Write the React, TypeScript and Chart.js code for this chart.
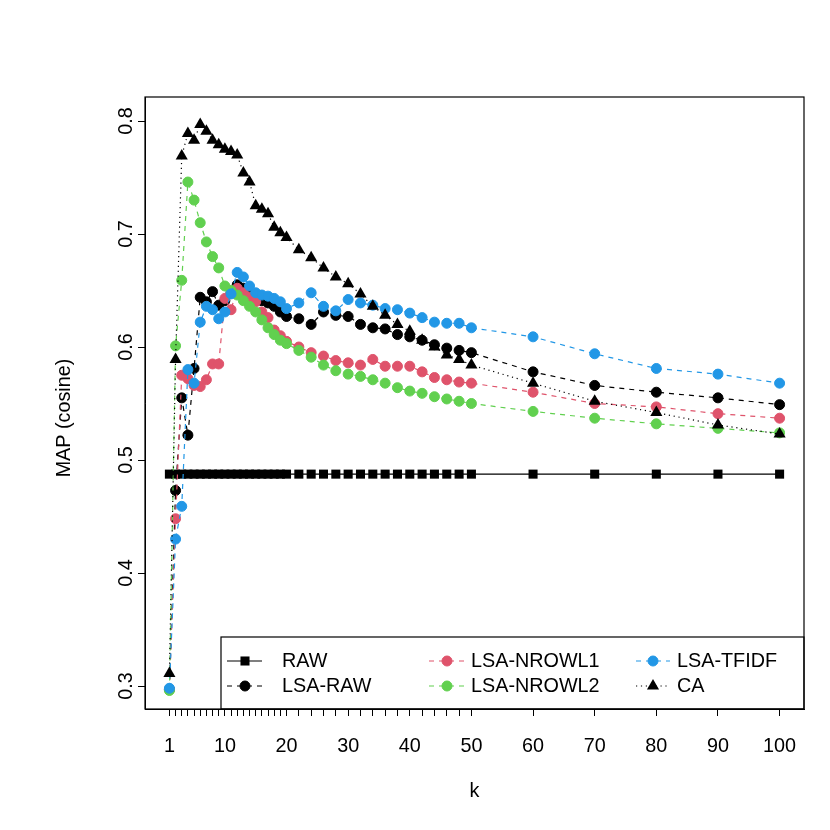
import React, { useEffect, useRef } from "react";
import { Chart, registerables } from "chart.js";

Chart.register(...registerables);

// ---------------- data ----------------
const kValues = [1, 2, 3, 4, 5, 6, 7, 8, 9, 10, 11, 12, 13, 14, 15, 16, 17, 18, 19, 20,
  22, 24, 26, 28, 30, 32, 34, 36, 38, 40, 42, 44, 46, 48, 50, 60, 70, 80, 90, 100];

const rawValues = [0.4875, 0.4875, 0.4875, 0.4875, 0.4875, 0.4875, 0.4875, 0.4875, 0.4875, 0.4875,
  0.4875, 0.4875, 0.4875, 0.4875, 0.4875, 0.4875, 0.4875, 0.4875, 0.4875, 0.4875,
  0.4875, 0.4875, 0.4875, 0.4875, 0.4875, 0.4875, 0.4875, 0.4875, 0.4875, 0.4875,
  0.4875, 0.4875, 0.4875, 0.4875, 0.4875, 0.4875, 0.4875, 0.4875, 0.4875, 0.4875];

const lsaRawValues = [0.297, 0.473, 0.555, 0.522, 0.581, 0.644, 0.640, 0.649, 0.637, 0.641,
  0.648, 0.655, 0.652, 0.648, 0.645, 0.641, 0.639, 0.636, 0.631, 0.627,
  0.625, 0.620, 0.631, 0.628, 0.627, 0.620, 0.617, 0.616, 0.611, 0.609,
  0.606, 0.602, 0.599, 0.597, 0.595, 0.578, 0.566, 0.560, 0.555, 0.549];

const nrowl1Values = [0.297, 0.448, 0.575, 0.572, 0.566, 0.565, 0.571, 0.585, 0.585, 0.643,
  0.633, 0.652, 0.648, 0.644, 0.640, 0.631, 0.626, 0.615, 0.610, 0.605,
  0.600, 0.595, 0.592, 0.588, 0.586, 0.584, 0.589, 0.583, 0.583, 0.583,
  0.578, 0.573, 0.571, 0.569, 0.568, 0.560, 0.550, 0.547, 0.541, 0.537];

const nrowl2Values = [0.296, 0.601, 0.659, 0.746, 0.730, 0.710, 0.693, 0.680, 0.670, 0.654,
  0.650, 0.646, 0.641, 0.636, 0.631, 0.624, 0.617, 0.611, 0.606, 0.603,
  0.597, 0.591, 0.584, 0.579, 0.576, 0.574, 0.571, 0.568, 0.564, 0.561,
  0.559, 0.556, 0.554, 0.552, 0.550, 0.543, 0.537, 0.532, 0.528, 0.524];

const tfidfValues = [0.298, 0.430, 0.459, 0.580, 0.568, 0.622, 0.636, 0.633, 0.625, 0.631,
  0.647, 0.666, 0.662, 0.654, 0.648, 0.646, 0.645, 0.643, 0.640, 0.634,
  0.639, 0.648, 0.636, 0.632, 0.642, 0.639, 0.637, 0.634, 0.633, 0.630,
  0.626, 0.622, 0.621, 0.621, 0.617, 0.609, 0.594, 0.581, 0.576, 0.568];

const caValues = [0.311, 0.589, 0.769, 0.789, 0.783, 0.797, 0.791, 0.783, 0.779, 0.775,
  0.773, 0.770, 0.754, 0.746, 0.725, 0.722, 0.718, 0.706, 0.701, 0.697,
  0.686, 0.679, 0.670, 0.662, 0.656, 0.647, 0.636, 0.628, 0.620, 0.614,
  0.606, 0.600, 0.593, 0.589, 0.584, 0.568, 0.552, 0.542, 0.531, 0.523];

const xLabelValues = [1, 10, 20, 30, 40, 50, 60, 70, 80, 90, 100];
const yTickValues = [0.3, 0.4, 0.5, 0.6, 0.7, 0.8];

const seriesNames = ["RAW", "LSA-RAW", "LSA-NROWL1", "LSA-NROWL2", "LSA-TFIDF", "CA"];

// ---------------- styles ----------------
const FONT = '"Liberation Sans", Arial, Helvetica, sans-serif';
const FS = 19.8;
const RED = "#DF536B";
const GREEN = "#61D04F";
const BLUE = "#2297E6";
const BLACK = "#000000";
const LW = 1.2;
const DASH = [5, 5];
const DOT = [1.2, 3.7];

type Sty = { color: string; dash: number[]; point: string; r: number; bw: number };
const styles: Sty[] = [
  { color: BLACK, dash: [], point: "rect", r: 6.4, bw: 0 },
  { color: BLACK, dash: DASH, point: "circle", r: 5, bw: 1 },
  { color: RED, dash: DASH, point: "circle", r: 5, bw: 1 },
  { color: GREEN, dash: DASH, point: "circle", r: 5, bw: 1 },
  { color: BLUE, dash: DASH, point: "circle", r: 5, bw: 1 },
  { color: BLACK, dash: DOT, point: "triangle", r: 7, bw: 0 },
];

// legend column layout: [segment start, marker x, segment end, text x]
const legendCols = [
  [227, 245, 262, 282],
  [429, 447, 465, 471],
  [636, 653, 670, 677],
];

function drawMarker(ctx: CanvasRenderingContext2D, s: Sty, x: number, y: number) {
  ctx.save();
  ctx.setLineDash([]);
  ctx.fillStyle = s.color;
  ctx.strokeStyle = s.color;
  ctx.lineWidth = s.bw;
  ctx.beginPath();
  if (s.point === "circle") {
    ctx.arc(x, y, s.r, 0, Math.PI * 2);
  } else if (s.point === "rect") {
    const h = s.r * Math.SQRT1_2;
    ctx.rect(x - h, y - h, 2 * h, 2 * h);
  } else {
    const r = s.r;
    ctx.moveTo(x, y - r);
    ctx.lineTo(x + r * Math.sin((2 * Math.PI) / 3), y - r * Math.cos((2 * Math.PI) / 3));
    ctx.lineTo(x + r * Math.sin((4 * Math.PI) / 3), y - r * Math.cos((4 * Math.PI) / 3));
    ctx.closePath();
  }
  ctx.fill();
  if (s.bw > 0) ctx.stroke();
  ctx.restore();
}

const rPlotPlugin = {
  id: "rPlot",
  afterDraw(chart: any) {
    const ctx: CanvasRenderingContext2D = chart.ctx;
    const { left, right, top, bottom } = chart.chartArea;
    const xs = chart.scales.x;
    const ys = chart.scales.y;
    ctx.save();

    // legend box (bottom right)
    const lgL = 221, lgT = 637, lgR = right, lgB = bottom;
    ctx.fillStyle = "#fff";
    ctx.fillRect(lgL, lgT, lgR - lgL, lgB - lgT);
    ctx.strokeStyle = "#000";
    ctx.lineWidth = 1.2;
    ctx.strokeRect(lgL, lgT, lgR - lgL, lgB - lgT);

    const rowY = [661, 686];
    ctx.font = `${FS}px ${FONT}`;
    ctx.textAlign = "left";
    ctx.textBaseline = "middle";
    seriesNames.forEach((name, i) => {
      const col = Math.floor(i / 2);
      const row = i % 2;
      const s = styles[i];
      const [x0, xm, x1, xt] = legendCols[col];
      const y = rowY[row];
      ctx.save();
      ctx.strokeStyle = s.color;
      ctx.lineWidth = LW;
      ctx.setLineDash(s.dash);
      ctx.beginPath();
      ctx.moveTo(x0, y);
      ctx.lineTo(x1, y);
      ctx.stroke();
      ctx.restore();
      drawMarker(ctx, s, xm, y);
      ctx.fillStyle = "#000";
      ctx.fillText(name, xt, y + 1);
    });

    // plot box
    ctx.strokeStyle = "#000";
    ctx.lineWidth = 1.2;
    ctx.setLineDash([]);
    ctx.strokeRect(left, top, right - left, bottom - top);

    // x tick labels
    ctx.fillStyle = "#000";
    ctx.font = `${FS}px ${FONT}`;
    ctx.textAlign = "center";
    ctx.textBaseline = "alphabetic";
    xLabelValues.forEach((v) => {
      ctx.fillText(String(v), xs.getPixelForValue(v), 752);
    });

    // y tick labels (rotated like R)
    yTickValues.forEach((v) => {
      ctx.save();
      ctx.translate(132, ys.getPixelForValue(v));
      ctx.rotate(-Math.PI / 2);
      ctx.fillText(v.toFixed(1), 0, 0);
      ctx.restore();
    });

    // axis titles
    ctx.fillText("k", (left + right) / 2, 797);
    ctx.save();
    ctx.translate(70, 418);
    ctx.rotate(-Math.PI / 2);
    ctx.fillText("MAP (cosine)", 0, 0);
    ctx.restore();

    ctx.restore();
  },
};

export default function App() {
  const canvasRef = useRef<HTMLCanvasElement | null>(null);

  useEffect(() => {
    const canvas = canvasRef.current;
    if (!canvas) return;
    const seriesValues = [rawValues, lsaRawValues, nrowl1Values, nrowl2Values, tfidfValues, caValues];
    const datasets = seriesValues.map((vals, i) => {
      const s = styles[i];
      return {
        label: seriesNames[i],
        data: kValues.map((k, j) => ({ x: k, y: vals[j] })),
        borderColor: s.color,
        backgroundColor: s.color,
        borderWidth: LW,
        borderDash: s.dash,
        pointStyle: s.point,
        pointRadius: s.r,
        pointBorderWidth: s.bw,
        pointBackgroundColor: s.color,
        pointBorderColor: s.color,
        fill: false,
        tension: 0,
        order: 5 - i,
        clip: false,
      };
    });

    const chart = new Chart(canvas, {
      type: "line",
      data: { datasets },
      options: {
        animation: false,
        responsive: false,
        devicePixelRatio: 1,
        layout: { padding: { left: 0, top: 97, right: 26, bottom: 0 }, autoPadding: false },
        plugins: { legend: { display: false }, tooltip: { enabled: false } },
        events: [],
        scales: {
          x: {
            type: "linear",
            min: -2.96,
            max: 103.96,
            afterBuildTicks: (s: any) => {
              s.ticks = kValues.map((v) => ({ value: v }));
            },
            afterFit: (s: any) => {
              s.height = 121;
            },
            ticks: { display: false },
            grid: {
              drawOnChartArea: false,
              drawTicks: true,
              tickLength: 7,
              color: "#000",
              tickColor: "#000",
              lineWidth: 1,
            },
            border: { display: true, color: "#000", width: 1 },
          },
          y: {
            type: "linear",
            min: 0.27965,
            max: 0.82124,
            afterBuildTicks: (s: any) => {
              s.ticks = yTickValues.map((v) => ({ value: v }));
            },
            afterFit: (s: any) => {
              s.width = 145;
            },
            ticks: { display: false },
            grid: {
              drawOnChartArea: false,
              drawTicks: true,
              tickLength: 7,
              color: "#000",
              tickColor: "#000",
              lineWidth: 1,
            },
            border: { display: true, color: "#000", width: 1 },
          },
        },
      } as any,
      plugins: [rPlotPlugin],
    });
    return () => chart.destroy();
  }, []);

  return (
    <div style={{ position: "fixed", left: 0, top: 0, width: 830, height: 830, background: "#fff" }}>
      <canvas ref={canvasRef} width={830} height={830} style={{ display: "block" }} />
    </div>
  );
}
